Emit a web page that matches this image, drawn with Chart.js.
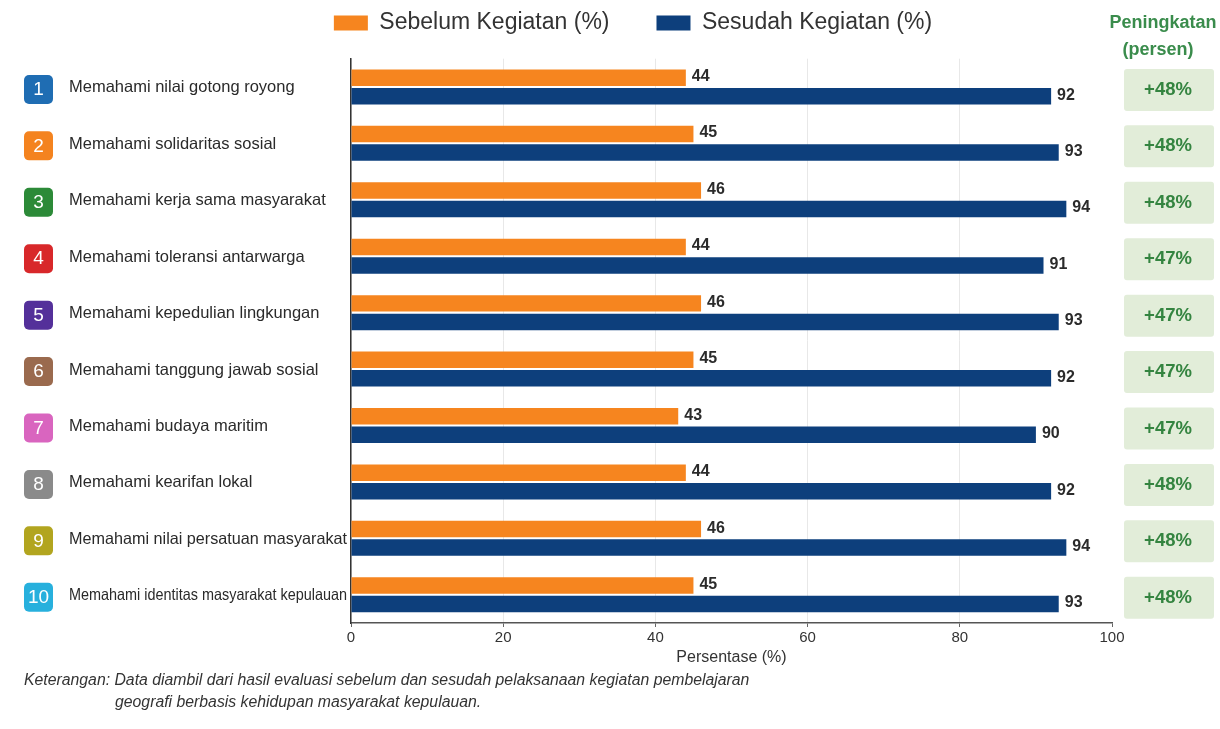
<!DOCTYPE html>
<html><head><meta charset="utf-8">
<script src="https://cdn.jsdelivr.net/npm/chart.js@4.4.1/dist/chart.umd.min.js"></script>
<style>html,body{margin:0;padding:0;background:#fff;}canvas{display:block}</style>
</head><body>
<canvas id="c" width="1220" height="729"></canvas>
<script>
const categories = [
  'Memahami nilai gotong royong',
  'Memahami solidaritas sosial',
  'Memahami kerja sama masyarakat',
  'Memahami toleransi antarwarga',
  'Memahami kepedulian lingkungan',
  'Memahami tanggung jawab sosial',
  'Memahami budaya maritim',
  'Memahami kearifan lokal',
  'Memahami nilai persatuan masyarakat',
  'Memahami identitas masyarakat kepulauan'
];
const sebelum = [44, 45, 46, 44, 46, 45, 43, 44, 46, 45];
const sesudah = [92, 93, 94, 91, 93, 92, 90, 92, 94, 93];
const peningkatan = ['+48%', '+48%', '+48%', '+47%', '+47%', '+47%', '+47%', '+48%', '+48%', '+48%'];
const badgeNumbers = ['1', '2', '3', '4', '5', '6', '7', '8', '9', '10'];
const badgeColors = ['#1F6DB3', '#F4831F', '#2C8A38', '#D8282A', '#54309A', '#9A6A4E', '#D965BF', '#8A8A8A', '#B2A51F', '#27B0DD'];
const seriesNames = ['Sebelum Kegiatan (%)', 'Sesudah Kegiatan (%)'];
const seriesColors = ['#F6851F', '#0D3F7C'];
const headerLines = ['Peningkatan', '(persen)'];
const xTitle = 'Persentase (%)';
const footnoteLines = [
  'Keterangan: Data diambil dari hasil evaluasi sebelum dan sesudah pelaksanaan kegiatan pembelajaran',
  'geografi berbasis kehidupan masyarakat kepulauan.'
];

const overlay = {
  id: 'overlay',
  afterDatasetsDraw(chart) {
    const ctx = chart.ctx;
    ctx.save();
    ctx.font = 'bold 16px "Liberation Sans"';
    ctx.fillStyle = '#2b2b2b';
    ctx.textBaseline = 'middle';
    ctx.textAlign = 'left';
    chart.data.datasets.forEach((ds, di) => {
      chart.getDatasetMeta(di).data.forEach((bar, i) => {
        ctx.fillText(String(ds.data[i]), bar.x + 6, bar.y - 1);
      });
    });
    ctx.restore();
  },
  afterDraw(chart) {
    const ctx = chart.ctx, ys = chart.scales.y;
    ctx.save();
    categories.forEach((label, i) => {
      const cy = ys.getPixelForValue(i);
      // badge
      ctx.fillStyle = badgeColors[i];
      ctx.beginPath();
      ctx.roundRect(24, cy - 12, 29, 29, 5);
      ctx.fill();
      ctx.fillStyle = '#ffffff';
      ctx.font = '19px "Liberation Sans"';
      ctx.textAlign = 'center';
      ctx.textBaseline = 'middle';
      ctx.fillText(badgeNumbers[i], 38.5, cy + 3);
      // label
      ctx.fillStyle = '#2a2a2a';
      ctx.font = '16.5px "Liberation Sans"';
      ctx.textAlign = 'left';
      ctx.fillText(label, 69, cy + 1, 278);
      // increase box
      ctx.fillStyle = '#E2EDD9';
      ctx.beginPath();
      ctx.roundRect(1124, cy - 18, 90, 42, 3);
      ctx.fill();
      ctx.fillStyle = '#348440';
      ctx.font = 'bold 18.5px "Liberation Sans"';
      ctx.textAlign = 'center';
      ctx.fillText(peningkatan[i], 1168, cy + 3);
    });
    // header
    ctx.fillStyle = '#3A8C4C';
    ctx.font = 'bold 18px "Liberation Sans"';
    ctx.textAlign = 'center';
    ctx.fillText(headerLines[0], 1163, 23);
    ctx.fillText(headerLines[1], 1158, 50);
    // footnote
    ctx.fillStyle = '#333333';
    ctx.font = 'italic 15.8px "Liberation Sans"';
    ctx.textAlign = 'left';
    ctx.fillText(footnoteLines[0], 24, 681, 728);
    ctx.fillText(footnoteLines[1], 115, 703);
    ctx.restore();
  }
};

new Chart(document.getElementById('c'), {
  type: 'bar',
  data: {
    labels: categories,
    datasets: [
      { label: seriesNames[0], data: sebelum, backgroundColor: seriesColors[0], categoryPercentage: 0.656, barPercentage: 0.89 },
      { label: seriesNames[1], data: sesudah, backgroundColor: seriesColors[1], categoryPercentage: 0.656, barPercentage: 0.89 }
    ]
  },
  options: {
    indexAxis: 'y',
    responsive: false,
    animation: false,
    layout: { padding: { left: 154, right: 108, top: -35.5, bottom: 60 } },
    scales: {
      x: {
        min: 0, max: 100,
        ticks: { stepSize: 20, font: { size: 15, family: 'Liberation Sans' }, color: '#333', padding: 2 },
        grid: {
          color: c => (c.tick && c.tick.value === 100) ? 'rgba(0,0,0,0)' : '#e8e8e8',
          tickLength: 4, tickColor: '#666'
        },
        border: { color: '#555', width: 1.5 },
        title: { display: true, text: xTitle, font: { size: 16, family: 'Liberation Sans' }, color: '#333', padding: { top: 2, bottom: 2 } },
        afterFit: s => { s.height = 46; }
      },
      y: {
        ticks: { display: false },
        grid: { display: false },
        border: { color: '#333', width: 1.5 },
        afterFit: s => { s.width = 197; }
      }
    },
    plugins: {
      legend: {
        position: 'top',
        labels: { boxWidth: 34, boxHeight: 15, padding: 47, color: '#333', font: { size: 23, family: 'Liberation Sans' } }
      },
      title: { display: true, text: '', weight: 500, font: { size: 1 }, padding: { top: 13, bottom: 0 } },
      tooltip: { enabled: false }
    }
  },
  plugins: [overlay]
});
</script>
</body></html>
